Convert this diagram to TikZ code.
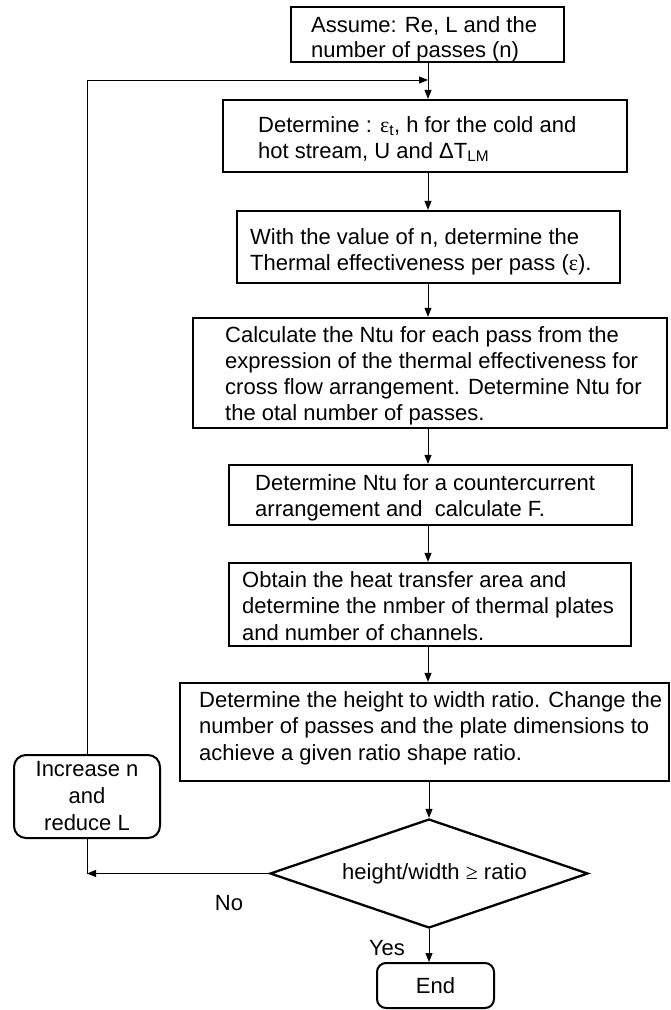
\documentclass[tikz,border=0pt]{standalone}
\usepackage{fontspec}
\setmainfont{Liberation Sans}
\newfontfamily\symfnt{Liberation Serif}
\usetikzlibrary{arrows.meta,shapes.geometric}
\begin{document}
\begin{tikzpicture}[x=1pt,y=-1pt,
  box/.style={draw, line width=2.3pt, rectangle, inner sep=0pt},
  rbox/.style={draw, line width=2pt, rectangle, rounded corners=12pt, inner sep=0pt, align=center, font=\fontsize{22}{27}\selectfont},
  txt/.style={inner sep=0pt, align=left, anchor=north west, font=\fontsize{22}{26}\selectfont},
  lbl/.style={inner sep=0pt, font=\fontsize{22}{27}\selectfont},
  arr/.style={line width=0.9pt, -{Triangle[length=9pt,width=7pt]}},
  ln/.style={line width=0.9pt}]
\useasboundingbox (0,0) rectangle (670,1010);
% boxes
\node[box, minimum width=273pt, minimum height=55pt] (b1) at (427.5,34.5) {};
\node[box, minimum width=404pt, minimum height=72pt] (b2) at (425,136) {};
\node[box, minimum width=383pt, minimum height=72pt] (b3) at (428.5,247) {};
\node[box, minimum width=474pt, minimum height=110pt] (b4) at (430,373) {};
\node[box, minimum width=403pt, minimum height=60pt] (b5) at (430.5,495) {};
\node[box, minimum width=402pt, minimum height=83pt] (b6) at (430,604.5) {};
\node[box, minimum width=489pt, minimum height=98pt] (b7) at (424.5,732) {};
\node[draw, line width=2.3pt, diamond, inner sep=0pt, aspect=2.9, minimum width=318pt, minimum height=109pt, font=\fontsize{22}{27}\selectfont] (dia) at (429,873.5) {\hspace{11pt}height/width {\symfnt ≥} ratio};
\node[rbox, minimum width=146pt, minimum height=83pt] (inc) at (87,796.5) {Increase n\\and\\reduce L};
\node[rbox, rounded corners=9pt, minimum width=117pt, minimum height=45pt] (endb) at (435.5,985.5) {End};
% texts
\node[txt, font=\fontsize{22}{25.5}\selectfont] (t1) at (311,16) {Assume: Re, L and the\\number of passes (n)};
\node[txt] (t2) at (258,116) {Determine : {\symfnt ε}\textsubscript{t}, h for the cold and\\hot stream, U and ΔT\textsubscript{LM}};
\node[txt] (t3) at (250,228) {With the value of n, determine the\\Thermal effectiveness per pass ({\symfnt ε}).};
\node[txt] (t4) at (225,326) {Calculate the Ntu for each pass from the\\expression of the thermal effectiveness for\\cross flow arrangement. Determine Ntu for\\the otal number of passes.};
\node[txt] (t5) at (255,474) {Determine Ntu for a countercurrent\\arrangement and~ calculate F.};
\node[txt, font=\fontsize{22}{26.5}\selectfont] (t6) at (242,571) {Obtain the heat transfer area and\\determine the nmber of thermal plates\\and number of channels.};
\node[txt, font=\fontsize{22}{26.5}\selectfont] (t7) at (199,691) {Determine the height to width ratio. Change the\\number of passes and the plate dimensions to\\achieve a given ratio shape ratio.};
\node[lbl] (no) at (229,903) {No};
\node[lbl] (yes) at (387,948) {Yes};
% connectors
\coordinate (sp) at (428,0);
\coordinate (join) at (428,80);
\draw[arr] (b1.south -| sp) -- (b2.north -| sp);
\draw[arr] (b2.south -| sp) -- (b3.north -| sp);
\draw[arr] (b3.south -| sp) -- (b4.north -| sp);
\draw[arr] (b4.south -| sp) -- (b5.north -| sp);
\draw[arr] (b5.south -| sp) -- (b6.north -| sp);
\draw[arr] (b6.south -| sp) -- (b7.north -| sp);
\draw[arr] (b7.south -| dia.north) -- (dia.north);
\draw[arr] (dia.south) -- (dia.south |- endb.north);
\draw[arr] (dia.west) -- (dia.west -| inc.south);
\draw[ln] (inc.south) -- (dia.west -| inc.south);
\draw[arr] (inc.north) |- (join);
\end{tikzpicture}
\end{document}
